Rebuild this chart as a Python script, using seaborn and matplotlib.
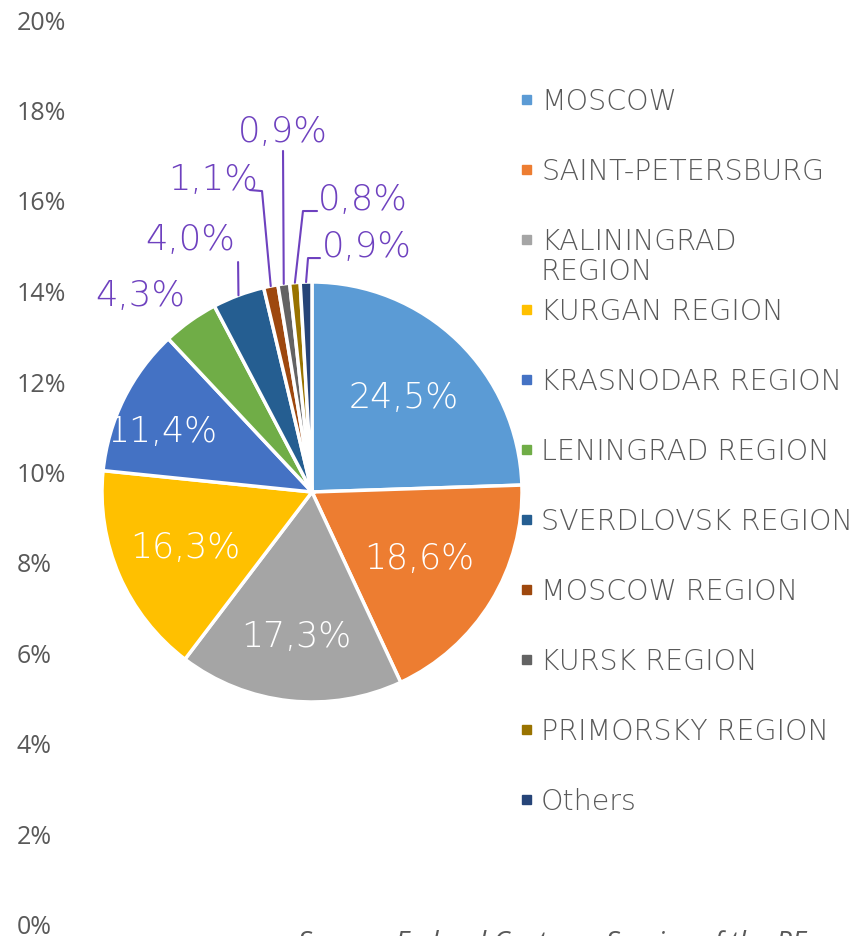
import numpy as np
import seaborn as sns
import matplotlib
matplotlib.use("Agg")
import matplotlib.pyplot as plt
from matplotlib.patches import Rectangle
from matplotlib.ticker import PercentFormatter

# data
regions = ["MOSCOW", "SAINT-PETERSBURG", "KALININGRAD\nREGION", "KURGAN REGION",
           "KRASNODAR REGION", "LENINGRAD REGION", "SVERDLOVSK REGION",
           "MOSCOW REGION", "KURSK REGION", "PRIMORSKY REGION", "Others"]
shares = [24.5, 18.6, 17.3, 16.3, 11.4, 4.3, 4.0, 1.1, 0.9, 0.8, 0.9]
colors = ["#5B9BD5", "#ED7D31", "#A5A5A5", "#FFC000", "#4472C4", "#70AD47",
          "#255E91", "#9E480E", "#636363", "#997300", "#264478"]
yticks = [0, 0.02, 0.04, 0.06, 0.08, 0.10, 0.12, 0.14, 0.16, 0.18, 0.20]

sns.set_theme(style="white")
plt.rcParams['font.family'] = ['DejaVu Sans']

purple = "#6E41BF"
grey = "#595959"
label_font = dict(family='DejaVu Sans', weight='light')

fig = plt.figure(figsize=(8.66, 9.37), dpi=100)
W, H = 866, 937

# value axis on the far left (labels left aligned)
ax = fig.add_axes([0, 12 / H, 10 / W, (925 - 20) / H])
ax.set_ylim(0, 0.2)
ax.set_yticks(yticks)
ax.yaxis.tick_right()
ax.yaxis.set_major_formatter(PercentFormatter(1.0, decimals=0))
ax.set_xticks([])
ax.tick_params(axis='y', length=0, pad=5, labelcolor=grey, labelsize=18)
for lab in ax.get_yticklabels():
    lab.set_family('Open Sans')
sns.despine(ax=ax, left=True, bottom=True, right=True, top=True)

# pie
R = 210
cx, cy = 312, 493
pax = fig.add_axes([(cx - R) / W, (H - cy - R) / H, 2 * R / W, 2 * R / H])
pax.set_facecolor("none")
wedges, _ = pax.pie(shares, colors=colors, startangle=90, counterclock=False,
                    radius=1, wedgeprops=dict(edgecolor="white", linewidth=2.5))
pax.set_xlim(-1, 1)
pax.set_ylim(-1, 1)
pax.set_aspect('equal')
pax.axis('off')

labels = [f"{v:.1f}%".replace('.', ',') for v in shares]
mid_angles = [np.deg2rad((w.theta1 + w.theta2) / 2) for w in wedges]

# inner labels: (distance from centre, angle shift in degrees)
inner_pos = [(0.63, 0), (0.6, 0), (0.69, 0), (0.66, 0), (0.77, 4)]
for i, (d, shift) in enumerate(inner_pos):
    a = mid_angles[i] + np.deg2rad(shift)
    pax.text(d * np.cos(a), d * np.sin(a), labels[i], color="white",
             fontsize=25, ha='center', va='center', **label_font)

# outer labels: (text pos, elbow points)
outer = {
    5: ((-0.82, 0.94), []),
    6: ((-0.58, 1.205), [(-0.352, 1.095)]),
    7: ((-0.47, 1.49), [(-0.238, 1.433), (-0.295, 1.438)]),
    8: ((-0.138, 1.72), [(-0.138, 1.624)]),
    9: ((0.243, 1.395), [(-0.043, 1.338), (0.024, 1.338)]),
    10: ((0.262, 1.171), [(-0.019, 1.114), (0.038, 1.114)]),
}
for i, (tpos, path) in outer.items():
    a = mid_angles[i]
    pax.text(tpos[0], tpos[1], labels[i], color=purple, fontsize=25.5,
             ha='center', va='center', **label_font)
    if path:
        pts = [(np.cos(a), np.sin(a))] + path
        xs, ys = zip(*pts)
        pax.plot(xs, ys, color=purple, lw=1.5, clip_on=False)

# legend
leg_y0 = 100
leg_step = 70
for i, (name, c) in enumerate(zip(regions, colors)):
    y = leg_y0 + i * leg_step
    fig.patches.append(Rectangle((522 / W, (H - y - 4.5) / H), 9 / W, 9 / H,
                                 transform=fig.transFigure, color=c))
    for j, line in enumerate(name.split("\n")):
        fig.text(541 / W, (H - y - 10 - 30 * j) / H, line, color=grey,
                 fontsize=20.5, ha='left', va='baseline', **label_font)

# source (cut at bottom)
fig.text(298 / W, (H - 951) / H, "Source: Federal Customs Service of the RF",
         color=grey, fontsize=20, family='Open Sans', style='italic',
         ha='left', va='baseline')

fig.savefig("out.png", dpi=100)
